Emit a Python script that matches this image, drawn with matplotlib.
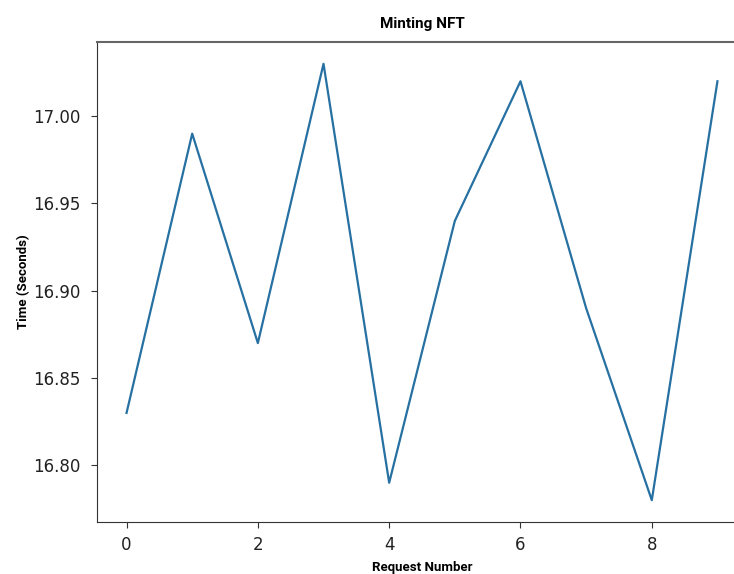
import matplotlib
matplotlib.use('Agg')
import matplotlib.pyplot as plt

plt.rcParams['font.family'] = ['Roboto', 'DejaVu Sans']

# Data
requests = list(range(10))
times = [16.83, 16.99, 16.87, 17.03, 16.79, 16.94, 17.02, 16.89, 16.78, 17.02]
xtick_vals = [0, 2, 4, 6, 8]
ytick_vals = [16.80, 16.85, 16.90, 16.95, 17.00]

fig = plt.figure(figsize=(7.34, 5.74), dpi=100)
# right spine sits outside the visible canvas in the reference
ax = fig.add_axes([97/734, 1 - 522/574, 650/734, 480/574])

ax.plot(requests, times, color='#2670a2', lw=1.6)

ax.set_title('Minting NFT', fontsize=11, fontweight='bold', pad=10)
ax.set_xlabel('Request Number', fontsize=9.5, fontweight='bold', labelpad=5)
ax.set_ylabel('Time (Seconds)', fontsize=9.5, fontweight='bold', labelpad=2)
ax.set_yticks(ytick_vals)
ax.set_yticklabels(['%.2f' % v for v in ytick_vals], family='DejaVu Sans')
ax.set_xticks(xtick_vals)
ax.set_xticklabels([str(v) for v in xtick_vals], family='DejaVu Sans')
ax.tick_params(labelsize=12, colors='#333333', labelcolor='#222222', length=4)
ax.tick_params(axis='x', pad=6)
ax.tick_params(axis='y', pad=8)
for s in ax.spines.values():
    s.set_color('#333333')
ax.spines['top'].set_color('#666666')
ax.spines['top'].set_linewidth(1.5)

fig.savefig('out.png', dpi=100)
